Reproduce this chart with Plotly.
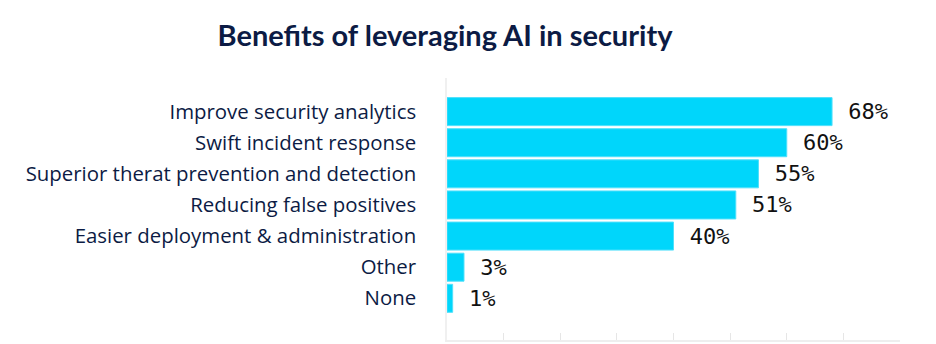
import plotly.graph_objects as go

categories = [
    "Improve security analytics",
    "Swift incident response",
    "Superior therat prevention and detection",
    "Reducing false positives",
    "Easier deployment & administration",
    "Other",
    "None",
]
values = [68, 60, 55, 51, 40, 3, 1]
tick_values = [0, 10, 20, 30, 40, 50, 60, 70, 80]

title_text = "Benefits of leveraging AI in security"

fig = go.Figure(
    go.Bar(
        y=categories,
        x=values,
        orientation="h",
        marker=dict(color="#00D6FB", line=dict(color="#4FE0FB", width=1)),
        texttemplate=" %{x}%",
        textposition="outside",
        cliponaxis=False,
        textfont=dict(family="DejaVu Sans Mono", size=22, color="#111111"),
    )
)

fig.update_layout(
    width=936,
    height=344,
    margin=dict(l=447, r=36, t=78, b=4),
    paper_bgcolor="white",
    plot_bgcolor="white",
    bargap=0.1,
    showlegend=False,
    title=dict(
        text=title_text,
        x=445 / 936,
        xanchor="center",
        y=1 - 36 / 344,
        yanchor="middle",
        font=dict(family="Lato", size=29, color="#0C1B44", weight="bold"),
    ),
    xaxis=dict(
        range=[0, 80],
        tickvals=tick_values,
        showticklabels=False,
        ticks="inside",
        ticklen=7,
        tickcolor="#E6E6E6",
        tickwidth=1,
        showgrid=False,
        zeroline=False,
        showline=True,
        linecolor="#EEEEEE",
        linewidth=1.5,
    ),
    yaxis=dict(
        categoryorder="array",
        categoryarray=categories,
        range=[6 + 1.34, -1.08],
        showgrid=False,
        zeroline=False,
        showline=True,
        linecolor="#F0F0F0",
        linewidth=1.5,
        ticks="",
        ticklabelstandoff=25,
        tickfont=dict(family="Open Sans", size=20.4, color="#0C1B44"),
    ),
)

fig.write_html("out.html")
